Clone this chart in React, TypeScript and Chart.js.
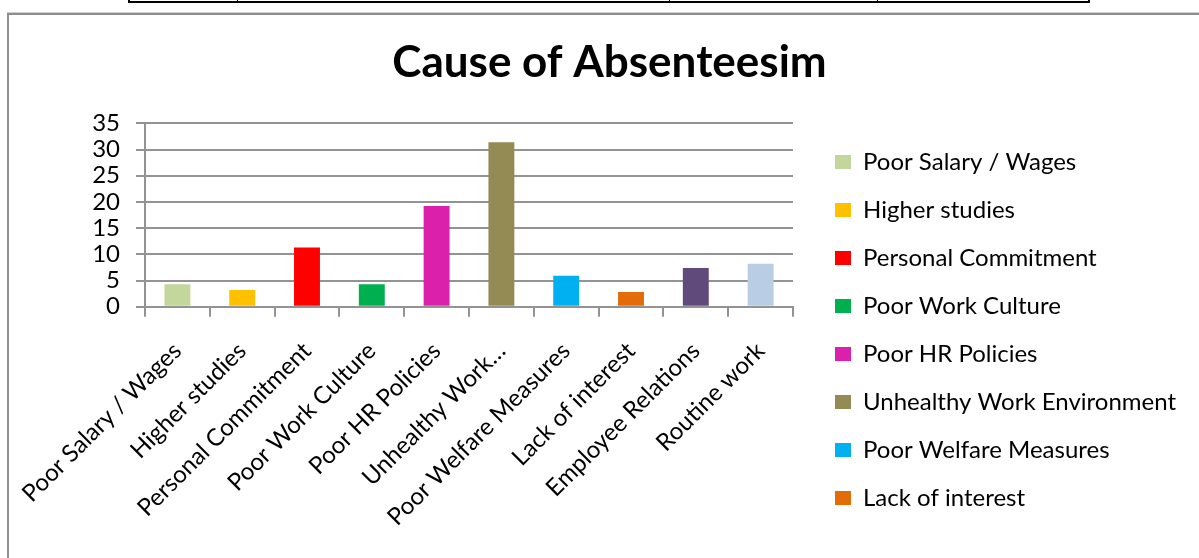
import { useEffect, useRef } from "react";
import { Chart, registerables } from "chart.js";

Chart.register(...registerables);

// Causes of absenteeism (full names, used by the legend)
const categories = [
  "Poor Salary / Wages",
  "Higher studies",
  "Personal Commitment",
  "Poor Work Culture",
  "Poor HR Policies",
  "Unhealthy Work Environment",
  "Poor Welfare Measures",
  "Lack of interest",
  "Employee Relations",
  "Routine work",
];

// Category axis text (long names are shortened on the axis)
const axisLabels = [
  "Poor Salary / Wages",
  "Higher studies",
  "Personal Commitment",
  "Poor Work Culture",
  "Poor HR Policies",
  "Unhealthy Work…",
  "Poor Welfare Measures",
  "Lack of interest",
  "Employee Relations",
  "Routine work",
];

// Share of respondents per cause (%)
const values = [4.3, 3.2, 11.3, 4.3, 19.2, 31.4, 5.9, 2.8, 7.4, 8.2];

const barColors = [
  "#C3D69B",
  "#FFC000",
  "#FF0000",
  "#00B050",
  "#DB21AB",
  "#948A54",
  "#00B0F0",
  "#E36C09",
  "#604A7B",
  "#B9CDE5",
];

const yMin = 0;
const yMax = 35;
const yStep = 5;

// Only this many entries fit in the legend column
const legendRows = 8;

const FONT = "Lato, 'Open Sans', sans-serif";
const GRID = "#939393";
const CANVAS_W = 1199;
const CANVAS_H = 543;

// legend metrics
const LEGEND_FONT = 24;
const LEGEND_BOX_W = 16;
const LEGEND_BOX_H = 14;
const LEGEND_PAD = 24;

function AbsenteeismChart() {
  const ref = useRef<HTMLCanvasElement | null>(null);

  useEffect(() => {
    const canvas = ref.current;
    if (!canvas) return;

    // Width of the legend column, from the longest entry shown
    const ctx = canvas.getContext("2d")!;
    ctx.font = `${LEGEND_FONT}px ${FONT}`;
    let textW = 0;
    categories.slice(0, legendRows).forEach((c) => {
      textW = Math.max(textW, ctx.measureText(c).width);
    });
    const legendW = Math.ceil(LEGEND_PAD + LEGEND_BOX_W + LEGEND_FONT / 2 + textW);

    // Legend starts at x=801; side paddings kept equal so the title stays centred
    const legendLeft = 801;
    const side = Math.max(0, CANVAS_W - legendLeft - legendW);
    const plotLeft = 135;
    const plotRight = 783;
    const plotTop = 108.3;
    const plotBottom = 291.7;
    const legendBottom = 519;

    const chart = new Chart(canvas, {
      type: "bar",
      data: {
        labels: axisLabels,
        datasets: [
          {
            label: "Cause of Absenteesim",
            data: values,
            backgroundColor: barColors,
            borderWidth: 0,
            barPercentage: 0.5,
            categoryPercentage: 0.8,
          },
        ],
      },
      options: {
        responsive: false,
        animation: false,
        devicePixelRatio: 1,
        layout: { padding: { left: side, right: side, top: 0, bottom: CANVAS_H - legendBottom } },
        plugins: {
          tooltip: { enabled: false },
          title: {
            display: true,
            text: "Cause of Absenteesim",
            color: "#000",
            font: { family: FONT, size: 44, weight: "bold", lineHeight: 1.2 },
            padding: { top: 21.4, bottom: plotTop - 21.4 - 52.8 },
          },
          legend: {
            display: true,
            position: "right",
            align: "end",
            maxWidth: legendW,
            labels: {
              color: "#000",
              font: { family: FONT, size: LEGEND_FONT },
              boxWidth: LEGEND_BOX_W,
              boxHeight: LEGEND_BOX_H,
              padding: LEGEND_PAD,
              generateLabels: () =>
                categories.map((text, i) => ({
                  text,
                  fillStyle: barColors[i],
                  strokeStyle: barColors[i],
                  lineWidth: 0,
                  hidden: false,
                  index: i,
                  fontColor: "#000",
                })),
              filter: (item: any) => item.index < legendRows,
            },
          },
        },
        scales: {
          x: {
            position: "bottom",
            grid: {
              display: true,
              drawOnChartArea: false,
              drawTicks: true,
              tickLength: 10,
              color: GRID,
              lineWidth: 2,
              offset: true,
            },
            border: { display: true, color: GRID, width: 2 },
            ticks: {
              color: "#000",
              font: { family: FONT, size: 24 },
              minRotation: 45,
              maxRotation: 45,
              autoSkip: false,
              padding: 20,
            },
            afterFit: (s: any) => {
              s.height = legendBottom - plotBottom;
              s.paddingLeft = 0;
              s.paddingRight = 0;
            },
          },
          y: {
            position: "left",
            min: yMin,
            max: yMax,
            grid: {
              color: GRID,
              lineWidth: 2,
              drawTicks: true,
              tickLength: 9,
            },
            border: { display: true, color: GRID, width: 2 },
            ticks: {
              stepSize: yStep,
              autoSkip: false,
              color: "#000",
              font: { family: FONT, size: 24 },
              padding: 16,
            },
            afterFit: (s: any) => {
              s.width = plotLeft - side;
              s.paddingTop = 0;
              s.paddingBottom = 0;
            },
          },
          // empty spacer between the plot and the legend
          gap: {
            type: "linear",
            position: "right",
            display: true,
            grid: { display: false },
            border: { display: false },
            ticks: { display: false },
            afterFit: (s: any) => {
              s.width = legendLeft - plotRight;
            },
          },
        },
      } as any,
    });
    return () => chart.destroy();
  }, []);

  return (
    <canvas
      ref={ref}
      width={CANVAS_W}
      height={CANVAS_H}
      style={{ position: "absolute", left: 10, top: 15, width: CANVAS_W, height: CANVAS_H, display: "block" }}
    />
  );
}

export default function App() {
  const tableLine: React.CSSProperties = {
    position: "absolute",
    top: 0,
    height: 3,
    background: "#000",
  };
  return (
    <div
      style={{
        position: "fixed",
        left: 0,
        top: 0,
        width: 1199,
        height: 558,
        overflow: "hidden",
        background: "#fff",
      }}
    >
      {/* bottom edge of the table above the chart */}
      <div style={{ position: "absolute", left: 128, top: 1, width: 962, height: 2, background: "#000" }} />
      <div style={{ ...tableLine, left: 128, width: 2 }} />
      <div style={{ ...tableLine, left: 237, width: 1 }} />
      <div style={{ ...tableLine, left: 669, width: 1 }} />
      <div style={{ ...tableLine, left: 877, width: 1 }} />
      <div style={{ ...tableLine, left: 1088, width: 2 }} />
      {/* chart frame */}
      <div
        style={{
          position: "absolute",
          left: 7,
          top: 13,
          width: 1400,
          height: 800,
          borderTop: "2px solid #8e8e8e",
          borderLeft: "2px solid #8e8e8e",
          boxShadow: "0 -1px 0 #cfcfcf",
        }}
      />
      <AbsenteeismChart />
    </div>
  );
}
